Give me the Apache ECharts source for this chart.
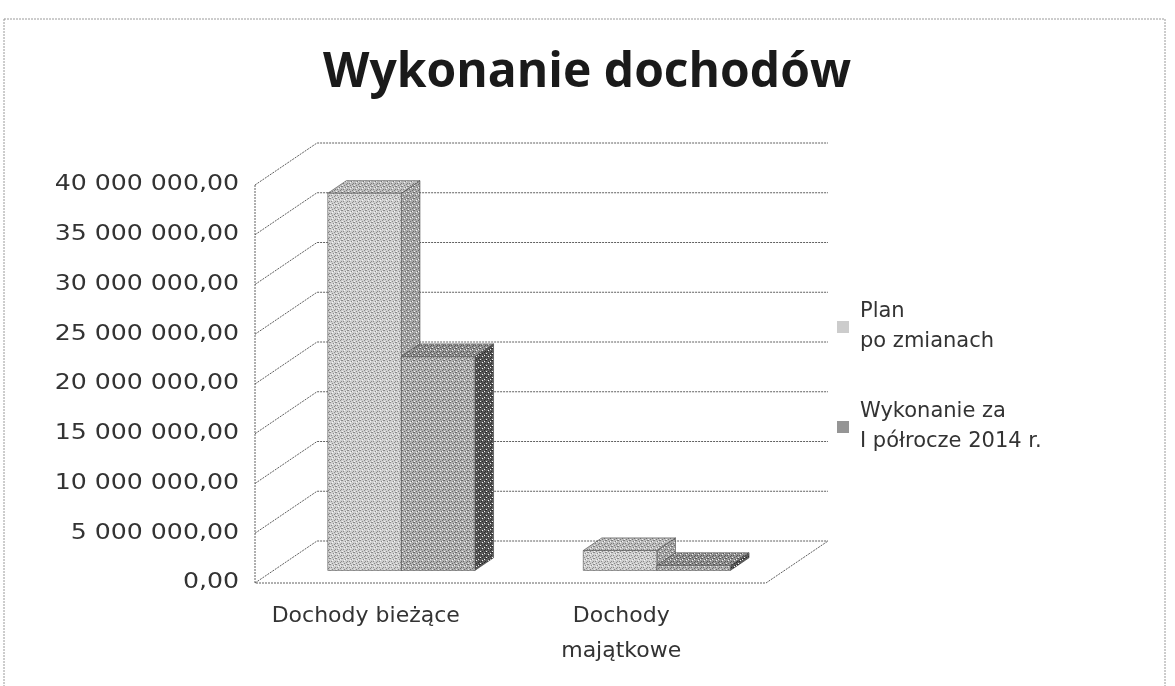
<!DOCTYPE html>
<html>
<head>
<meta charset="utf-8">
<title>Wykonanie dochodów</title>
<script src="https://cdn.jsdelivr.net/npm/echarts@6/dist/echarts.min.js"></script>
<style>
  html, body { margin: 0; padding: 0; background: #fff; }
  #chart { width: 1175px; height: 686px; }
</style>
</head>
<body>
<div id="chart"></div>
<script>
const categories = ['Dochody bieżące', 'Dochody\nmajątkowe'];
const planValues = [37900000, 2000000];
const wykonanieValues = [21500000, 500000];
const seriesNames = ['Plan\npo zmianach', 'Wykonanie za\nI półrocze 2014 r.'];
const yTicks = [0, 5000000, 10000000, 15000000, 20000000, 25000000, 30000000, 35000000, 40000000];

// oblique 3D look: how far the back wall sits from the front edge
const DEPTH_X = 62;
const DEPTH_Y = -42;
const BAR_FRONT = 0.3;
const BAR_BACK = 0.6;
const BAR_FRAC = 0.288;

const faceColors = [
  { front: '#cfcfcf', top: '#bdbdbd', side: '#a8a8a8', dot: ['#8a8a8a', '#7c7c7c', '#6e6e6e'] },
  { front: '#b0b0b0', top: '#939393', side: '#5a5a5a', dot: ['#6a6a6a', '#555555', '#2a2a2a'] }
];

// fixed speckle so the faces look like the scanned print
const DOTS = [[0, 0], [3, 1], [5, 0], [1, 3], [4, 4], [2, 5], [5, 3]];
const LIGHT = [[2, 2], [4, 1], [0, 5]];

function speckle(base, dark) {
  const c = document.createElement('canvas');
  c.width = 6; c.height = 6;
  const g = c.getContext('2d');
  g.fillStyle = base;
  g.fillRect(0, 0, 6, 6);
  g.fillStyle = dark;
  DOTS.forEach(([x, y]) => g.fillRect(x, y, 1, 1));
  g.fillStyle = '#f4f4f4';
  LIGHT.forEach(([x, y]) => g.fillRect(x, y, 1, 1));
  return { image: c, repeat: 'repeat' };
}

function fmtPl(v) {
  const [int, dec] = v.toFixed(2).split('.');
  return int.replace(/\B(?=(\d{3})+(?!\d))/g, ' ') + ',' + dec;
}

function renderWall(params, api) {
  const v = api.value(1);
  const c0 = api.coord([0, v]);
  const band = api.size([1, 0])[0];
  const left = c0[0] - band / 2;
  const right = c0[0] + band * 1.5;
  const y = c0[1];
  const line = { stroke: '#606060', lineWidth: 1, lineDash: [2, 1], fill: null };
  const children = [
    {
      type: 'polyline',
      shape: { points: [[left, y], [left + DEPTH_X, y + DEPTH_Y], [right + DEPTH_X, y + DEPTH_Y]] },
      style: line
    },
    {
      type: 'text',
      x: left - 16,
      y: y,
      scaleX: 1.2,
      style: {
        text: fmtPl(v),
        fontFamily: 'DejaVu Sans',
        fontSize: 21,
        fill: '#333',
        align: 'right',
        verticalAlign: 'middle'
      }
    }
  ];
  if (v === 0) {
    const yTop = api.coord([0, yTicks[yTicks.length - 1]])[1];
    children.push({
      type: 'polyline',
      shape: { points: [[left, yTop], [left, y], [right, y], [right + DEPTH_X, y + DEPTH_Y]] },
      style: line
    });
  }
  return { type: 'group', children };
}

function makeBarRenderer(idx) {
  const col = faceColors[idx];
  const pats = {
    front: speckle(col.front, col.dot[0]),
    top: speckle(col.top, col.dot[1]),
    side: speckle(col.side, col.dot[2])
  };
  return function (params, api) {
    const base = api.coord([api.value(0), 0]);
    const top = api.coord([api.value(0), api.value(1)]);
    const band = api.size([1, 0])[0];
    const w = band * BAR_FRAC;
    const x0 = base[0] - w + idx * w;
    const fx = DEPTH_X * BAR_FRONT, fy = DEPTH_Y * BAR_FRONT;
    const bx = DEPTH_X * BAR_BACK, by = DEPTH_Y * BAR_BACK;
    const yb = base[1], yt = top[1];
    return {
      type: 'group',
      children: [
        {
          type: 'polygon',
          shape: { points: [[x0 + fx + w, yt + fy], [x0 + bx + w, yt + by], [x0 + bx + w, yb + by], [x0 + fx + w, yb + fy]] },
          style: { fill: pats.side, stroke: '#444', lineWidth: 0.6 }
        },
        {
          type: 'polygon',
          shape: { points: [[x0 + fx, yt + fy], [x0 + fx + w, yt + fy], [x0 + bx + w, yt + by], [x0 + bx, yt + by]] },
          style: { fill: pats.top, stroke: '#444', lineWidth: 0.6 }
        },
        {
          type: 'rect',
          shape: { x: x0 + fx, y: yt + fy, width: w, height: yb - yt },
          style: { fill: pats.front, stroke: '#555', lineWidth: 0.6 }
        }
      ]
    };
  };
}

const chart = echarts.init(document.getElementById('chart'));

chart.setOption({
  backgroundColor: '#fff',
  animation: false,
  title: {
    text: 'Wykonanie dochodów',
    left: 582,
    textAlign: 'center',
    top: 44,
    textStyle: { fontFamily: 'Open Sans', fontWeight: 'bold', fontSize: 48, color: '#1a1a1a' }
  },
  graphic: [{
    type: 'rect',
    shape: { x: 4, y: 19, width: 1161, height: 700 },
    style: { fill: null, stroke: '#9a9a9a', lineWidth: 1, lineDash: [2, 1] },
    silent: true
  }],
  legend: {
    orient: 'vertical',
    left: 832,
    top: 277,
    itemGap: 10,
    itemWidth: 12,
    itemHeight: 12,
    icon: 'rect',
    data: [
      { name: seriesNames[0], itemStyle: { color: '#cccccc' } },
      { name: seriesNames[1], itemStyle: { color: '#959595' } }
    ],
    textStyle: {
      fontFamily: 'DejaVu Sans',
      fontSize: 21,
      lineHeight: 30,
      color: '#333',
      padding: [30, 0, 0, 6]
    }
  },
  grid: { left: 255, right: 409, top: 185, bottom: 103 },
  xAxis: {
    type: 'category',
    data: categories,
    axisLine: { show: false },
    axisTick: { show: false },
    axisLabel: {
      fontFamily: 'DejaVu Sans',
      fontSize: 22,
      lineHeight: 35,
      color: '#333',
      margin: 16,
      padding: [0, 34, 0, 0]
    }
  },
  yAxis: {
    type: 'value',
    min: 0,
    max: 40000000,
    interval: 5000000,
    axisLine: { show: false },
    axisTick: { show: false },
    splitLine: { show: false },
    axisLabel: { show: false }
  },
  series: [
    {
      type: 'custom',
      name: 'walls',
      silent: true,
      z: 1,
      renderItem: renderWall,
      data: yTicks.map(v => [0, v])
    },
    {
      type: 'custom',
      name: seriesNames[0],
      z: 2,
      itemStyle: { color: '#cccccc' },
      renderItem: makeBarRenderer(0),
      data: planValues.map((v, i) => [i, v])
    },
    {
      type: 'custom',
      name: seriesNames[1],
      z: 3,
      itemStyle: { color: '#959595' },
      renderItem: makeBarRenderer(1),
      data: wykonanieValues.map((v, i) => [i, v])
    }
  ]
});
</script>
</body>
</html>
